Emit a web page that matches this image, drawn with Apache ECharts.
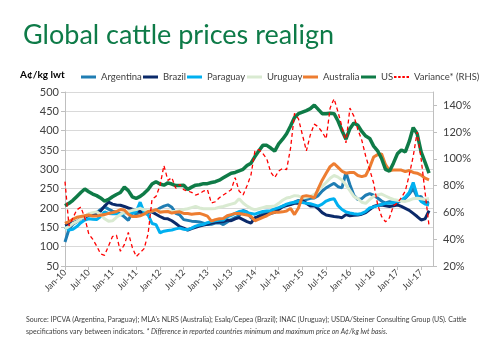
<!DOCTYPE html>
<html><head><meta charset="utf-8">
<script src="https://cdn.jsdelivr.net/npm/echarts@6/dist/echarts.min.js"></script>
<style>html,body{margin:0;padding:0;background:#fff}#c{width:500px;height:350px}</style>
</head><body><div id="c"></div>
<script>
const years = ['10','11','12','13','14','15','16','17'];
const monthNames = ['Jan','Feb','Mar','Apr','May','Jun','Jul','Aug','Sep','Oct','Nov','Dec'];
const categories = [];
years.forEach(y => monthNames.forEach(m => categories.push(m + '-' + y)));
categories.length = 94; // Jan-10 .. Oct-17

const argentina = [112,145,158,165,172,178,184,183,188,196,
  203,197,192,189,185,177,168,188,185,188,
  189,190,193,193,200,205,208,202,186,182,
  170,168,166,165,164,161,157,158,161,162,
  157,164,170,175,180,194,190,175,169,180,
  185,189,191,193,198,205,208,210,215,220,
  214,222,225,226,232,244,252,258,264,255,
  252,292,260,233,222,224,233,237,233,226,
  218,213,216,214,214,220,225,236,250,228,
  230,212,216];
const brazil = [155,158,162,165,172,176,181,184,186,192,
  205,215,210,208,207,204,200,197,194,191,
  188,189,190,184,178,173,172,167,160,152,
  148,143,147,150,153,156,158,161,163,164,
  165,169,167,172,175,170,165,161,175,178,
  181,184,186,189,196,203,206,209,212,212,
  220,212,205,206,198,188,182,180,178,177,
  175,183,180,181,182,184,188,196,204,207,
  208,206,204,206,208,204,199,194,186,178,
  169,172,193];
const paraguay = [150,143,145,152,162,169,172,171,170,178,
  190,186,185,186,182,188,188,187,191,215,
  188,182,160,157,136,140,142,143,146,148,
  145,144,148,153,156,158,162,165,167,168,
  169,177,181,186,191,192,188,186,184,188,
  191,192,193,198,201,205,210,213,215,217,
  214,212,211,208,205,210,218,222,224,206,
  196,190,187,185,184,186,191,200,203,206,
  209,212,212,214,217,220,228,240,266,232,
  217,210,208];
const uruguay = [146,152,160,165,172,178,185,188,190,184,
  172,166,167,176,183,189,191,194,196,199,
  195,192,192,194,192,191,192,191,191,194,
  196,198,201,204,200,198,198,198,199,202,
  204,207,210,213,224,213,205,199,195,198,
  201,204,204,205,212,220,226,228,232,231,
  226,228,230,235,244,256,266,277,284,280,
  272,260,245,230,224,215,212,222,230,234,
  236,231,226,222,220,218,217,220,224,225,
  224,222,225];
const australia = [160,165,171,176,178,180,182,179,179,181,
  183,186,188,191,196,195,184,178,178,180,
  184,191,192,196,189,190,191,187,189,190,
  186,186,184,185,186,183,179,166,170,172,
  173,180,183,186,186,184,182,178,167,171,
  176,180,186,189,189,190,192,199,183,200,
  230,232,230,226,250,272,290,307,315,305,
  295,290,292,292,284,281,284,305,332,338,
  340,312,297,298,298,298,294,297,292,290,
  285,277,273];
const us = [206,212,220,230,240,249,242,236,232,226,
  218,222,229,235,240,254,245,229,225,230,
  238,248,262,268,262,259,265,262,258,258,
  259,248,254,259,260,263,263,266,268,272,
  278,284,290,292,296,300,310,316,333,348,
  362,362,355,347,366,378,392,412,434,444,
  448,452,457,466,455,444,444,445,444,425,
  400,378,405,420,414,398,386,380,360,348,
  328,300,295,316,340,350,345,372,408,392,
  345,318,290];
const variance = [83,50,56,62,64,56,44,40,35,29,
  28,35,42,43,31,36,45,34,27,30,
  33,44,70,72,80,95,84,86,78,81,
  77,76,75,73,74,76,77,67,68,71,
  73,75,77,86,76,73,80,88,106,107,
  104,100,90,86,91,93,92,108,134,130,
  118,106,118,126,124,120,115,138,145,135,
  124,112,138,132,122,114,102,92,82,66,
  57,53,56,65,67,71,76,88,102,120,
  100,75,50];

const leftTicks = {min: 50, max: 500, interval: 50};
const rightTicks = {min: 20, max: 150, interval: 20};

const FONT = 'Lato';
const GRAY = '#404040';

const seriesDefs = [
  {name: 'Argentina', data: argentina, color: '#1F7DB3', width: 3, textX: 96},
  {name: 'Brazil', data: brazil, color: '#0B2A6A', width: 3, textX: 158},
  {name: 'Paraguay', data: paraguay, color: '#00B0F0', width: 3, textX: 202},
  {name: 'Uruguay', data: uruguay, color: '#D9EAD1', width: 3, textX: 262},
  {name: 'Australia', data: australia, color: '#ED7D31', width: 3, textX: 318},
  {name: 'US', data: us, color: '#0F7B47', width: 3.5, textX: 376},
  {name: 'Variance* (RHS)', data: variance, color: '#FF0000', width: 1.3, textX: 409, axis: 1, dashed: true}
];

const chart = echarts.init(document.getElementById('c'), null, {renderer: 'canvas'});

const dashIcon = 'path://M0,0H3V1H0ZM5,0H8V1H5ZM10,0H13V1H10ZM15,0H18V1H15Z';

chart.setOption({
  animation: false,
  textStyle: {fontFamily: FONT},
  title: {
    text: 'Global cattle prices realign', left: 18, top: 17,
    textStyle: {fontFamily: FONT, fontSize: 27, fontWeight: 'normal', color: '#0E7B48'}
  },
  legend: seriesDefs.map(d => ({
    left: d.textX - 20, top: 67, itemWidth: 15, itemHeight: d.dashed ? 2 : 3, itemGap: 0,
    symbolKeepAspect: false,
    textStyle: {fontFamily: FONT, fontSize: 9.5, color: GRAY},
    data: [{name: d.name, icon: d.dashed ? dashIcon : 'rect'}]
  })),
  grid: {left: 65, right: 67, top: 92, bottom: 84},
  xAxis: {
    type: 'category', data: categories, boundaryGap: false,
    axisLine: {lineStyle: {color: '#BFBFBF'}},
    axisTick: {show: true, interval: i => i % 6 === 0, length: 4, lineStyle: {color: '#BFBFBF'}},
    axisLabel: {interval: i => i % 6 === 0, rotate: 45, fontSize: 9, color: GRAY, margin: 5, fontFamily: FONT},
    splitLine: {show: false}
  },
  yAxis: [{
    type: 'value', position: 'left', min: leftTicks.min, max: leftTicks.max, interval: leftTicks.interval,
    axisLine: {show: true, lineStyle: {color: '#BFBFBF'}},
    axisTick: {show: true, length: 4, lineStyle: {color: '#BFBFBF'}},
    axisLabel: {fontSize: 11, color: GRAY, margin: 6, fontFamily: FONT},
    splitLine: {lineStyle: {color: '#D9D9D9'}}
  }, {
    type: 'value', position: 'right', min: rightTicks.min, max: rightTicks.max, interval: rightTicks.interval,
    axisLine: {show: true, lineStyle: {color: '#BFBFBF'}},
    axisTick: {show: true, length: 4, lineStyle: {color: '#BFBFBF'}},
    axisLabel: {fontSize: 11, color: GRAY, margin: 10, formatter: '{value}%', showMaxLabel: false, fontFamily: FONT},
    splitLine: {show: false}
  }],
  series: seriesDefs.map(d => ({
    name: d.name, type: 'line', data: d.data, symbol: 'none', smooth: false,
    yAxisIndex: d.axis || 0,
    lineStyle: {color: d.color, width: d.width, type: d.dashed ? [4, 3] : 'solid'},
    itemStyle: {color: d.color},
    emphasis: {disabled: true}, animation: false
  })),
  graphic: [
    {type: 'text', left: 20, top: 70, style: {text: 'A¢/kg lwt', font: 'bold 10px ' + FONT, fill: '#000'}},
    {type: 'text', left: 26, top: 316, style: {text: "Source: IPCVA (Argentina, Paraguay); MLA's NLRS (Australia); Esalq/Cepea (Brazil); INAC (Uruguay); USDA/Steiner Consulting Group (US). Cattle", font: '7px ' + FONT, fill: GRAY}},
    {type: 'text', left: 26, top: 328, style: {
      text: '{a|specifications vary between indicators. }{b|* Difference in reported countries minimum and maximum price on A¢/kg lwt basis.}',
      rich: {a: {font: '7px ' + FONT, fill: GRAY}, b: {font: 'italic 7px ' + FONT, fill: GRAY}}
    }}
  ]
});
</script>
</body></html>
